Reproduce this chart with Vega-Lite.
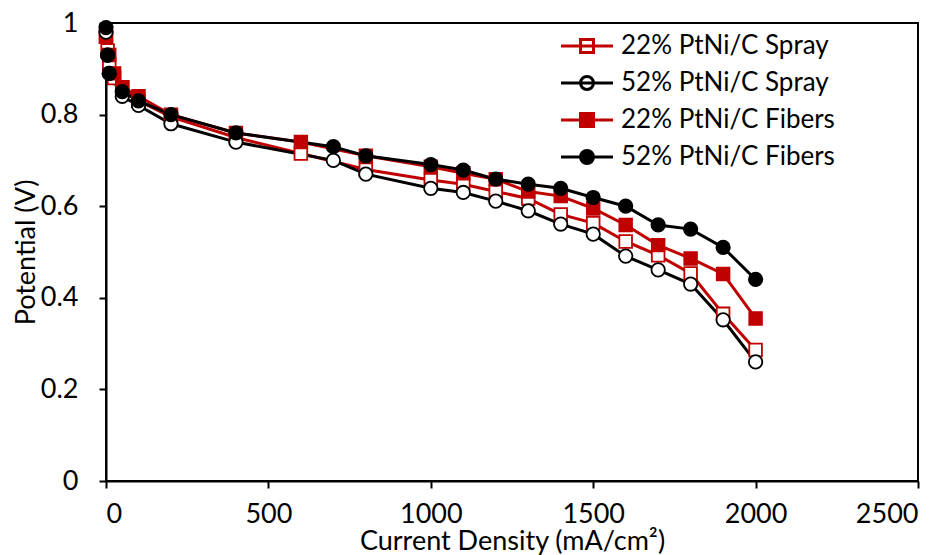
{
  "$schema": "https://vega.github.io/schema/vega-lite/v6.json",
  "width": 812,
  "height": 458,
  "autosize": {"type": "none"},
  "padding": {"left": 106, "top": 23, "right": 32, "bottom": 74},
  "background": "white",
  "config": {
    "view": {"stroke": "black", "strokeWidth": 2},
    "axis": {
      "grid": false,
      "domainColor": "black",
      "domainWidth": 2,
      "tickColor": "black",
      "tickWidth": 2,
      "tickSize": 7,
      "labelFont": "Lato",
      "labelFontSize": 27,
      "labelColor": "black",
      "titleFont": "Lato",
      "titleFontSize": 27,
      "titleFontWeight": "normal",
      "titleColor": "black"
    },
    "legend": {
      "title": null,
      "orient": "none",
      "legendX": 468,
      "legendY": 10,
      "labelFont": "Lato",
      "labelFontSize": 26,
      "labelColor": "black",
      "labelLimit": 0,
      "labelOffset": 21,
      "rowPadding": 11,
      "padding": 0,
      "symbolSize": 169,
      "symbolStrokeWidth": 3,
      "symbolOpacity": 1,
      "symbolFillColor": "white"
    }
  },
  "resolve": {
    "scale": {"stroke": "independent", "fill": "independent", "shape": "independent"},
    "legend": {"stroke": "independent", "fill": "independent", "shape": "independent"}
  },
  "datasets": {
    "pol": [
      {"series": "22% PtNi/C Spray", "x": 0, "y": 0.97},
      {"series": "22% PtNi/C Spray", "x": 5, "y": 0.94},
      {"series": "22% PtNi/C Spray", "x": 10, "y": 0.91},
      {"series": "22% PtNi/C Spray", "x": 25, "y": 0.88},
      {"series": "22% PtNi/C Spray", "x": 50, "y": 0.86},
      {"series": "22% PtNi/C Spray", "x": 100, "y": 0.83},
      {"series": "22% PtNi/C Spray", "x": 200, "y": 0.795},
      {"series": "22% PtNi/C Spray", "x": 400, "y": 0.75},
      {"series": "22% PtNi/C Spray", "x": 600, "y": 0.715},
      {"series": "22% PtNi/C Spray", "x": 800, "y": 0.68},
      {"series": "22% PtNi/C Spray", "x": 1000, "y": 0.657},
      {"series": "22% PtNi/C Spray", "x": 1100, "y": 0.648},
      {"series": "22% PtNi/C Spray", "x": 1200, "y": 0.632},
      {"series": "22% PtNi/C Spray", "x": 1300, "y": 0.617},
      {"series": "22% PtNi/C Spray", "x": 1400, "y": 0.582},
      {"series": "22% PtNi/C Spray", "x": 1500, "y": 0.563},
      {"series": "22% PtNi/C Spray", "x": 1600, "y": 0.523},
      {"series": "22% PtNi/C Spray", "x": 1700, "y": 0.493},
      {"series": "22% PtNi/C Spray", "x": 1800, "y": 0.453},
      {"series": "22% PtNi/C Spray", "x": 1900, "y": 0.365},
      {"series": "22% PtNi/C Spray", "x": 2000, "y": 0.286},
      {"series": "52% PtNi/C Spray", "x": 0, "y": 0.98},
      {"series": "52% PtNi/C Spray", "x": 5, "y": 0.93},
      {"series": "52% PtNi/C Spray", "x": 10, "y": 0.89},
      {"series": "52% PtNi/C Spray", "x": 50, "y": 0.84},
      {"series": "52% PtNi/C Spray", "x": 100, "y": 0.82},
      {"series": "52% PtNi/C Spray", "x": 200, "y": 0.78},
      {"series": "52% PtNi/C Spray", "x": 400, "y": 0.74},
      {"series": "52% PtNi/C Spray", "x": 700, "y": 0.70},
      {"series": "52% PtNi/C Spray", "x": 800, "y": 0.67},
      {"series": "52% PtNi/C Spray", "x": 1000, "y": 0.639},
      {"series": "52% PtNi/C Spray", "x": 1100, "y": 0.630},
      {"series": "52% PtNi/C Spray", "x": 1200, "y": 0.611},
      {"series": "52% PtNi/C Spray", "x": 1300, "y": 0.590},
      {"series": "52% PtNi/C Spray", "x": 1400, "y": 0.561},
      {"series": "52% PtNi/C Spray", "x": 1500, "y": 0.539},
      {"series": "52% PtNi/C Spray", "x": 1600, "y": 0.491},
      {"series": "52% PtNi/C Spray", "x": 1700, "y": 0.461},
      {"series": "52% PtNi/C Spray", "x": 1800, "y": 0.430},
      {"series": "52% PtNi/C Spray", "x": 1900, "y": 0.352},
      {"series": "52% PtNi/C Spray", "x": 2000, "y": 0.260},
      {"series": "22% PtNi/C Fibers", "x": 0, "y": 0.97},
      {"series": "22% PtNi/C Fibers", "x": 10, "y": 0.93},
      {"series": "22% PtNi/C Fibers", "x": 25, "y": 0.89},
      {"series": "22% PtNi/C Fibers", "x": 50, "y": 0.86},
      {"series": "22% PtNi/C Fibers", "x": 100, "y": 0.84},
      {"series": "22% PtNi/C Fibers", "x": 200, "y": 0.80},
      {"series": "22% PtNi/C Fibers", "x": 400, "y": 0.76},
      {"series": "22% PtNi/C Fibers", "x": 600, "y": 0.74},
      {"series": "22% PtNi/C Fibers", "x": 800, "y": 0.71},
      {"series": "22% PtNi/C Fibers", "x": 1000, "y": 0.686},
      {"series": "22% PtNi/C Fibers", "x": 1100, "y": 0.672},
      {"series": "22% PtNi/C Fibers", "x": 1200, "y": 0.659},
      {"series": "22% PtNi/C Fibers", "x": 1300, "y": 0.632},
      {"series": "22% PtNi/C Fibers", "x": 1400, "y": 0.622},
      {"series": "22% PtNi/C Fibers", "x": 1500, "y": 0.595},
      {"series": "22% PtNi/C Fibers", "x": 1600, "y": 0.559},
      {"series": "22% PtNi/C Fibers", "x": 1700, "y": 0.515},
      {"series": "22% PtNi/C Fibers", "x": 1800, "y": 0.486},
      {"series": "22% PtNi/C Fibers", "x": 1900, "y": 0.452},
      {"series": "22% PtNi/C Fibers", "x": 2000, "y": 0.355},
      {"series": "52% PtNi/C Fibers", "x": 0, "y": 0.99},
      {"series": "52% PtNi/C Fibers", "x": 5, "y": 0.93},
      {"series": "52% PtNi/C Fibers", "x": 10, "y": 0.89},
      {"series": "52% PtNi/C Fibers", "x": 50, "y": 0.85},
      {"series": "52% PtNi/C Fibers", "x": 100, "y": 0.83},
      {"series": "52% PtNi/C Fibers", "x": 200, "y": 0.80},
      {"series": "52% PtNi/C Fibers", "x": 400, "y": 0.76},
      {"series": "52% PtNi/C Fibers", "x": 700, "y": 0.73},
      {"series": "52% PtNi/C Fibers", "x": 800, "y": 0.71},
      {"series": "52% PtNi/C Fibers", "x": 1000, "y": 0.691},
      {"series": "52% PtNi/C Fibers", "x": 1100, "y": 0.679},
      {"series": "52% PtNi/C Fibers", "x": 1200, "y": 0.659},
      {"series": "52% PtNi/C Fibers", "x": 1300, "y": 0.648},
      {"series": "52% PtNi/C Fibers", "x": 1400, "y": 0.639},
      {"series": "52% PtNi/C Fibers", "x": 1500, "y": 0.619},
      {"series": "52% PtNi/C Fibers", "x": 1600, "y": 0.600},
      {"series": "52% PtNi/C Fibers", "x": 1700, "y": 0.559},
      {"series": "52% PtNi/C Fibers", "x": 1800, "y": 0.550},
      {"series": "52% PtNi/C Fibers", "x": 1900, "y": 0.510},
      {"series": "52% PtNi/C Fibers", "x": 2000, "y": 0.440}
    ]
  },
  "data": {"name": "pol"},
  "encoding": {
    "x": {
      "field": "x",
      "type": "quantitative",
      "scale": {"domain": [0, 2500], "nice": false},
      "axis": {
        "title": "Current Density (mA/cm²)",
        "values": [0, 500, 1000, 1500, 2000, 2500],
        "format": "d",
        "labelPadding": 13,
        "titleY": 68,
        "titleBaseline": "alphabetic"
      }
    },
    "y": {
      "field": "y",
      "type": "quantitative",
      "scale": {"domain": [0, 1], "nice": false},
      "axis": {
        "title": "Potential (V)",
        "values": [0, 0.2, 0.4, 0.6, 0.8, 1],
        "format": "~g",
        "labelPadding": 21,
        "titleX": -72,
        "titleBaseline": "alphabetic",
        "titleAngle": 270
      }
    }
  },
  "layer": [
    {
      "mark": {"type": "line", "strokeWidth": 3},
      "encoding": {
        "stroke": {
          "field": "series",
          "type": "nominal",
          "scale": {
            "domain": ["22% PtNi/C Spray", "52% PtNi/C Spray", "22% PtNi/C Fibers", "52% PtNi/C Fibers"],
            "range": ["#C00000", "#000000", "#C00000", "#000000"]
          },
          "legend": null
        },
        "order": {"field": "x", "type": "quantitative"}
      }
    },
    {
      "transform": [{"filter": "indexof(datum.series, '22%') == 0"}],
      "mark": {"type": "point", "shape": "square", "size": 160, "strokeWidth": 1.8, "opacity": 1},
      "encoding": {
        "stroke": {
          "field": "series",
          "type": "nominal",
          "scale": {
            "domain": ["22% PtNi/C Spray", "52% PtNi/C Spray", "22% PtNi/C Fibers", "52% PtNi/C Fibers"],
            "range": ["#C00000", "#000000", "#C00000", "#000000"]
          },
          "legend": null
        },
        "fill": {
          "field": "series",
          "type": "nominal",
          "scale": {
            "domain": ["22% PtNi/C Spray", "52% PtNi/C Spray", "22% PtNi/C Fibers", "52% PtNi/C Fibers"],
            "range": ["#FFFFFF", "#FFFFFF", "#C00000", "#000000"]
          },
          "legend": null
        }
      }
    },
    {
      "transform": [{"filter": "indexof(datum.series, '52%') == 0"}],
      "mark": {"type": "point", "shape": "circle", "size": 180, "strokeWidth": 1.8, "opacity": 1},
      "encoding": {
        "stroke": {
          "field": "series",
          "type": "nominal",
          "scale": {
            "domain": ["22% PtNi/C Spray", "52% PtNi/C Spray", "22% PtNi/C Fibers", "52% PtNi/C Fibers"],
            "range": ["#C00000", "#000000", "#C00000", "#000000"]
          },
          "legend": null
        },
        "fill": {
          "field": "series",
          "type": "nominal",
          "scale": {
            "domain": ["22% PtNi/C Spray", "52% PtNi/C Spray", "22% PtNi/C Fibers", "52% PtNi/C Fibers"],
            "range": ["#FFFFFF", "#FFFFFF", "#C00000", "#000000"]
          },
          "legend": null
        }
      }
    },
    {
      "mark": {"type": "point", "filled": true, "size": 169, "strokeWidth": 3, "opacity": 0},
      "encoding": {
        "stroke": {
          "field": "series",
          "type": "nominal",
          "scale": {
            "domain": ["22% PtNi/C Spray", "52% PtNi/C Spray", "22% PtNi/C Fibers", "52% PtNi/C Fibers"],
            "range": ["#C00000", "#000000", "#C00000", "#000000"]
          },
          "legend": {}
        },
        "fill": {
          "field": "series",
          "type": "nominal",
          "scale": {
            "domain": ["22% PtNi/C Spray", "52% PtNi/C Spray", "22% PtNi/C Fibers", "52% PtNi/C Fibers"],
            "range": ["#FFFFFF", "#FFFFFF", "#C00000", "#000000"]
          },
          "legend": {}
        },
        "shape": {
          "field": "series",
          "type": "nominal",
          "scale": {
            "domain": ["22% PtNi/C Spray", "52% PtNi/C Spray", "22% PtNi/C Fibers", "52% PtNi/C Fibers"],
            "range": [
              "M-4,0H4M-1,-1H1V1H-1Z",
              "M-4,0H4M1,0A1,1,0,1,1,-1,0A1,1,0,1,1,1,0Z",
              "M-4,0H4M-1,-1H1V1H-1Z",
              "M-4,0H4M1,0A1,1,0,1,1,-1,0A1,1,0,1,1,1,0Z"
            ]
          },
          "legend": {}
        }
      }
    }
  ]
}
